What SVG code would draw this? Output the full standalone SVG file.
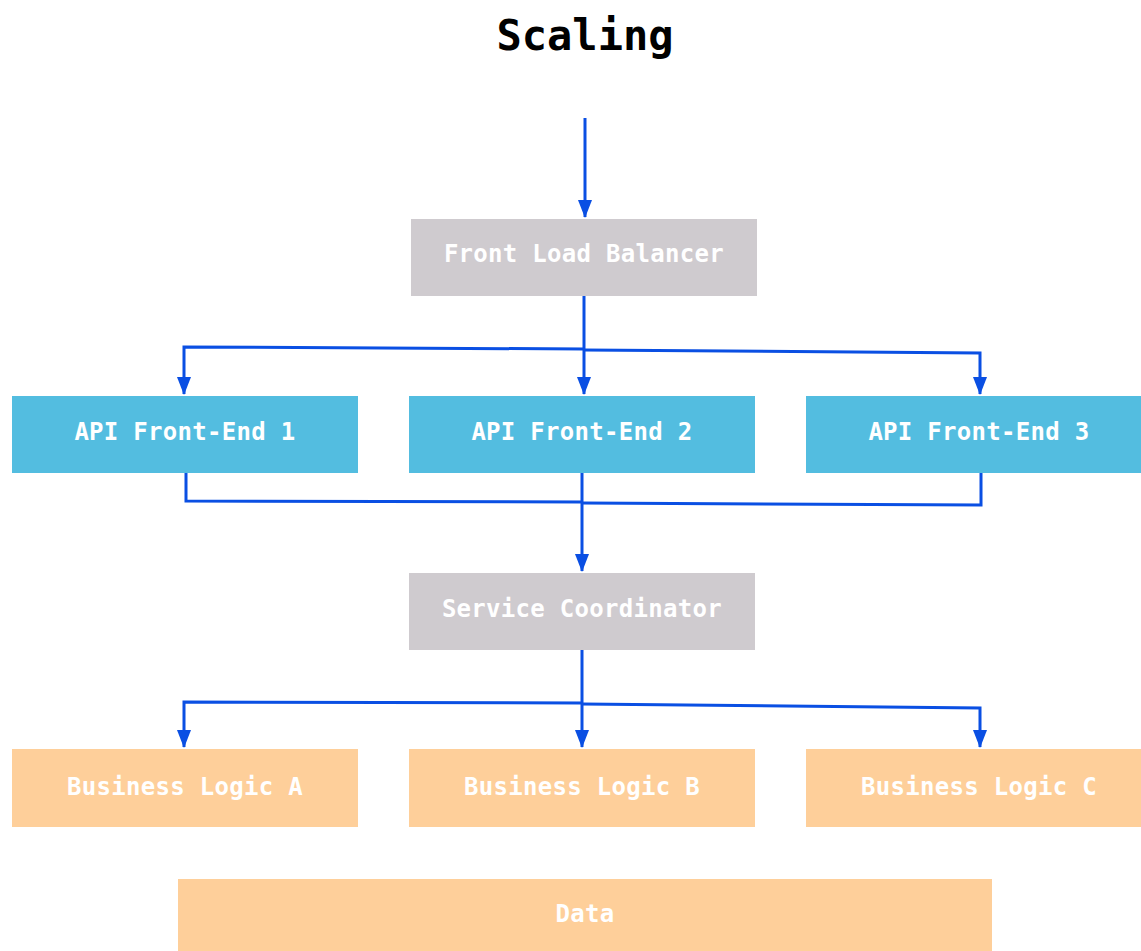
<svg xmlns="http://www.w3.org/2000/svg" width="1141" height="951" viewBox="0 0 1141 951">
<style>
.t{font-family:"DejaVu Sans Mono","Liberation Mono",monospace;font-size:24px;fill:#ffffff;text-anchor:middle;letter-spacing:0.3px;font-weight:bold}
.g{fill:#cfcbcf}
.b{fill:#53bde0}
.o{fill:#fecf9a}
.c{fill:none;stroke:#0a4fe3;stroke-width:3;stroke-linejoin:miter}
</style>
<defs>
<marker id="ah" viewBox="0 0 18 14" refX="17" refY="7" markerWidth="18" markerHeight="14" markerUnits="userSpaceOnUse" orient="auto">
<path d="M0,0 L18,7 L0,14 z" fill="#0a4fe3"/>
</marker>
</defs>
<rect width="1141" height="951" fill="#ffffff"/>
<text x="585" y="50" font-family="DejaVu Sans Mono,Liberation Mono,monospace" font-size="42" font-weight="bold" text-anchor="middle" fill="#000">Scaling</text>
<g id="connectors">
<path class="c" d="M585,118 V217" marker-end="url(#ah)"/>
<path class="c" d="M584,296 V394" marker-end="url(#ah)"/>
<path class="c" d="M584,349 L184,347 V394" marker-end="url(#ah)"/>
<path class="c" d="M584,350 L980,353 V394" marker-end="url(#ah)"/>
<path class="c" d="M186,473 V501 L582,502"/>
<path class="c" d="M981,473 V505 L582,503"/>
<path class="c" d="M582,473 V571" marker-end="url(#ah)"/>
<path class="c" d="M582,650 V747" marker-end="url(#ah)"/>
<path class="c" d="M582,703 L184,702 V747" marker-end="url(#ah)"/>
<path class="c" d="M582,704 L980,708 V747" marker-end="url(#ah)"/>
</g>
<g id="front-load-balancer"><rect class="g" x="411" y="219" width="346" height="77"/><text class="t" x="584" y="262">Front Load Balancer</text></g>
<g id="api-1"><rect class="b" x="12" y="396" width="346" height="77"/><text class="t" x="185" y="440">API Front-End 1</text></g>
<g id="api-2"><rect class="b" x="409" y="396" width="346" height="77"/><text class="t" x="582" y="440">API Front-End 2</text></g>
<g id="api-3"><rect class="b" x="806" y="396" width="346" height="77"/><text class="t" x="979" y="440">API Front-End 3</text></g>
<g id="service-coordinator"><rect class="g" x="409" y="573" width="346" height="77"/><text class="t" x="582" y="617">Service Coordinator</text></g>
<g id="business-a"><rect class="o" x="12" y="749" width="346" height="78"/><text class="t" x="185" y="795">Business Logic A</text></g>
<g id="business-b"><rect class="o" x="409" y="749" width="346" height="78"/><text class="t" x="582" y="795">Business Logic B</text></g>
<g id="business-c"><rect class="o" x="806" y="749" width="346" height="78"/><text class="t" x="979" y="795">Business Logic C</text></g>
<g id="data"><rect class="o" x="178" y="879" width="814" height="80"/><text class="t" x="585" y="922">Data</text></g>
</svg>
